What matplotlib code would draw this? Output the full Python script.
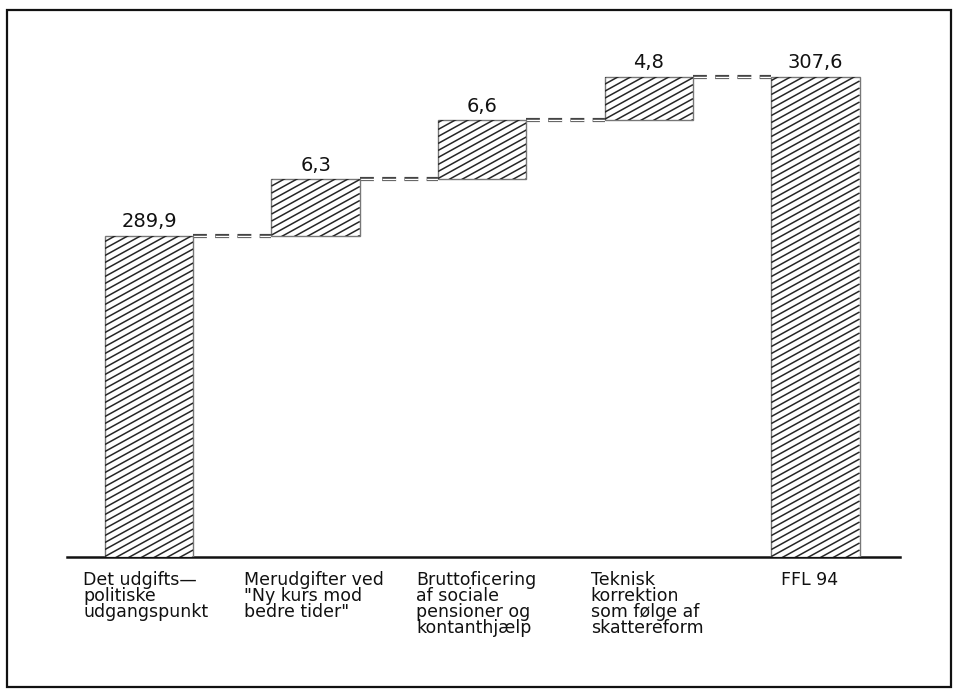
"""
Waterfall chart: from det udgiftspolitiske udgangspunkt to FFL 94.
"""

import numpy as np
import matplotlib.pyplot as plt
from matplotlib.patches import Rectangle
from matplotlib.collections import LineCollection

plt.rcParams['font.family'] = ['DejaVu Sans']
plt.rcParams['lines.scale_dashes'] = False

# ============================================================
# Data
# ============================================================
categories = [
    "Det udgifts\u2014\npolitiske\nudgangspunkt",
    "Merudgifter ved\n\"Ny kurs mod\nbedre tider\"",
    "Bruttoficering\naf sociale\npensioner og\nkontanthjælp",
    "Teknisk\nkorrektion\nsom følge af\nskattereform",
    "FFL 94",
]
start_value = 289.9
changes = [6.3, 6.6, 4.8]
end_value = 307.6
value_labels = ["289,9", "6,3", "6,6", "4,8", "307,6"]

# layout (pixels on a 956x695 canvas)
W, H = 956, 695
ax_left, ax_right, ax_bottom, ax_top = 67, 900, 557, 30
y_floor = 254.1          # truncated value axis, value at the baseline
px_per_unit = 8.98       # vertical pixels per unit
label_shift_px = [-66, -72, -66, -58, -34]


def main():
    fig = plt.figure(figsize=(W / 100, H / 100), dpi=100)
    ax = fig.add_axes([ax_left / W, (H - ax_bottom) / H,
                       (ax_right - ax_left) / W, (ax_bottom - ax_top) / H])

    n = len(categories)
    x = np.arange(n)
    step_px = 166.6
    x0 = (ax_left - 149) / step_px
    ax.set_xlim(x0, x0 + (ax_right - ax_left) / step_px)
    ax.set_ylim(y_floor, y_floor + (ax_bottom - ax_top) / px_per_unit)

    # bar bottoms and tops
    levels = np.concatenate([[start_value], start_value + np.cumsum(changes)])
    bottoms = [y_floor] + list(levels[:-1]) + [y_floor]
    tops = list(levels) + [end_value]
    width = 0.53

    # data units per pixel
    dx = 1 / step_px
    dy = 1 / px_per_unit
    slope = 0.55        # hatch slope in pixels
    spacing = 7.0       # vertical distance between hatch lines, pixels
    for i in range(n):
        left = x[i] - width / 2
        rect = Rectangle((left, bottoms[i]), width, tops[i] - bottoms[i],
                         facecolor='white', edgecolor='#777777', lw=1.0,
                         zorder=3)
        ax.add_patch(rect)
        # diagonal hatch lines, built in pixel terms then clipped to the bar
        w_px = width * step_px
        h_px = (tops[i] - bottoms[i]) * px_per_unit
        segs = []
        k = -w_px * slope
        while k < h_px:
            segs.append([(left, bottoms[i] + k * dy),
                         (left + w_px * dx, bottoms[i] + (k + w_px * slope) * dy)])
            k += spacing
        lc = LineCollection(segs, colors='#262626', linewidths=1.1, zorder=4)
        ax.add_collection(lc)
        lc.set_clip_path(rect)

        ax.annotate(value_labels[i], (x[i], tops[i]), xytext=(0, 3),
                    textcoords='offset points', ha='center', va='bottom',
                    fontsize=14, color='#111111')

        ax.annotate(categories[i], (x[i], 0),
                    xycoords=('data', 'axes fraction'),
                    xytext=(label_shift_px[i] * 0.72, -10),
                    textcoords='offset points', ha='left', va='top',
                    fontsize=12.5, linespacing=0.86, color='#111111')

    # dashed connectors (hollow dashes)
    for i in range(n - 1):
        xa = x[i] + width / 2
        xb = x[i + 1] - width / 2
        yv = tops[i]
        ax.plot([xa, xb], [yv, yv], color='#444444', lw=3.0,
                linestyle=(0, (10, 6)), dash_capstyle='butt', zorder=2)
        ax.plot([xa, xb], [yv, yv], color='white', lw=1.0,
                linestyle=(0, (10, 6)), dash_capstyle='butt', zorder=2.5)

    # baseline
    ax.plot([x0, x0 + (ax_right - ax_left) / step_px], [y_floor, y_floor],
            color='#111111', lw=1.8, zorder=2, clip_on=False)

    for s in ax.spines.values():
        s.set_visible(False)
    ax.set_xticks([])
    ax.set_yticks([])

    # outer frame
    fig.patches.append(Rectangle((7 / W, 1 - 687 / H), 944 / W, 677 / H,
                                 transform=fig.transFigure, fill=False,
                                 edgecolor='#111111', lw=1.6))

    fig.savefig("out.png", dpi=100)


if __name__ == "__main__":
    main()
